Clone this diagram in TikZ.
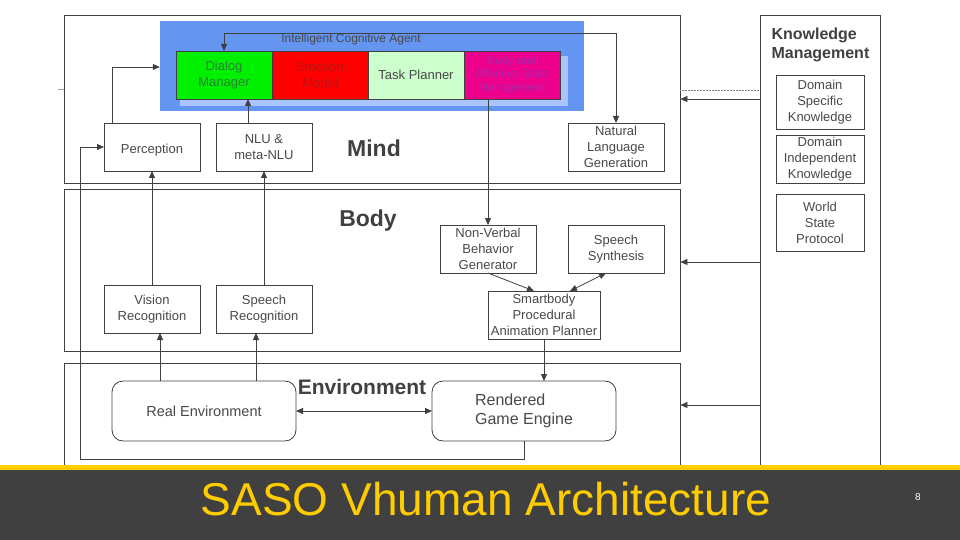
\documentclass[tikz,border=0pt]{standalone}
\usepackage{fontspec}
\setmainfont{Liberation Sans}
\usetikzlibrary{positioning,arrows.meta}
\definecolor{ln}{RGB}{64,64,64}
\definecolor{tx}{RGB}{72,72,72}
\definecolor{agblue}{RGB}{100,149,240}
\definecolor{agshade}{RGB}{170,196,255}
\definecolor{dmgreen}{RGB}{0,240,0}
\definecolor{dmtext}{RGB}{40,130,50}
\definecolor{emtext}{RGB}{180,20,20}
\definecolor{tpgreen}{RGB}{204,255,204}
\definecolor{bastext}{RGB}{170,40,170}
\definecolor{barbg}{RGB}{64,64,64}
\definecolor{ylw}{RGB}{255,204,0}

\begin{document}
\begin{tikzpicture}[x=1pt,y=-1pt,
  layer/.style={draw=ln,line width=0.8pt,inner sep=0pt},
  box/.style={draw=ln,line width=0.8pt,minimum width=96pt,minimum height=48pt,inner sep=1pt,outer sep=0pt,align=center,text=tx,font=\fontsize{13}{16}\selectfont},
  ag/.style={box,minimum width=96pt,minimum height=48pt},
  env/.style={box,rounded corners=11pt,minimum width=184pt,minimum height=60pt,font=\fontsize{14.5}{19}\selectfont},
  lbl/.style={text=ln,font=\bfseries\fontsize{23}{26}\selectfont},
  arr/.style={draw=ln,line width=0.8pt,-{Triangle[length=7pt,width=6pt]}},
  darr/.style={arr,{Triangle[length=7pt,width=6pt]}-{Triangle[length=7pt,width=6pt]}}
]
\useasboundingbox (0,0) rectangle (960,540);

\node[layer,minimum width=616pt,minimum height=168pt] (mind) at (372,99) {};
\node[layer,minimum width=616pt,minimum height=162pt] (body) at (372,270) {};
\node[layer,minimum width=616pt,minimum height=102pt] (envl) at (372,414) {};
\node[layer,minimum width=120pt,minimum height=450pt] (km) at (820,240) {};

\node[fill=agblue,minimum width=424pt,minimum height=90pt,inner sep=0pt] (ica) at (372,66) {};
\fill[agshade] (180,99) rectangle (568,106);
\fill[agshade] (560,56) rectangle (568,106);
\node[text=tx,font=\fontsize{12}{14}\selectfont] (icat) at (351,39) {Intelligent Cognitive Agent};
\node[ag,fill=dmgreen,text=dmtext] (dm) at (224,75) {Dialog\\Manager};
\node[ag,fill=red,text=emtext,right=0pt of dm] (em) {Emotion\\Model};
\node[ag,fill=tpgreen,right=0pt of em] (tp) {Task Planner};
\node[ag,fill=magenta,text=bastext,font=\fontsize{11.5}{13.5}\selectfont,right=0pt of tp] (bas) {Body and\\Affective State\\Management};

\node[box] (perc) at (152,147) {\mbox{}\\Perception};
\node[box] (nlu) at (264,147) {NLU \&\\meta-NLU};
\node[box] (nlg) at (616,147) {Natural\\Language\\Generation};
\node[lbl] (mindt) at (374,148) {Mind};

\node[lbl] (bodyt) at (368,221) {Body};
\node[box] (nvb) at (488,249) {Non-Verbal\\Behavior\\Generator};
\node[box] (ss) at (616,249) {Speech\\Synthesis};
\node[box,minimum width=112pt] (sb) at (544,315) {Smartbody\\Procedural\\Animation Planner};
\node[box] (vr) at (152,309) {Vision\\Recognition};
\node[box] (sr) at (264,309) {Speech\\Recognition};

\node[lbl,font=\bfseries\fontsize{21}{24}\selectfont] (envt) at (362,387) {Environment};
\node[env] (re) at (204,411) {Real Environment};
\node[env,align=left,font=\fontsize{16}{19}\selectfont] (rge) at (524,411) {Rendered\\Game Engine};

\node[text=ln,align=left,anchor=west,font=\bfseries\fontsize{16}{19}\selectfont] (kmt) at (768,45) {Knowledge\\Management};
\node[box,minimum width=88pt,minimum height=54pt] (dsk) at (820,102) {Domain\\Specific\\Knowledge};
\node[box,minimum width=88pt,minimum height=48pt] (dik) at (820,159) {Domain\\Independent\\Knowledge};
\node[box,minimum width=88pt,minimum height=57pt] (wsp) at (820,223) {World\\State\\Protocol};

\draw[darr] (dm.north) -- (dm.north |- 0,33) -- (nlg.north |- 0,33) -- (nlg.north);
\draw[arr] ([xshift=-40pt]perc.north) |- (ica.west |- 0,67);
\draw[arr] ([xshift=-16pt]nlu.north) -- ++(0,-24);
\draw[arr] (bas.south -| nvb.north) -- (nvb.north);
\draw[arr] (vr.north) -- (perc.south);
\draw[arr] (sr.north) -- (nlu.south);
\draw[arr] (re.north -| 160,0) -- (vr.south -| 160,0);
\draw[arr] (re.north -| 256,0) -- (sr.south -| 256,0);
\draw[arr] (sb.south) -- (sb.south |- rge.north);
\draw[darr] (re) -- (rge);
\draw[arr] (nvb.south) -- ([xshift=-10pt]sb.north);
\draw[darr] ([xshift=-10pt]ss.south) -- ([xshift=26pt]sb.north);
\draw[arr] (rge.south) -- ++(0,18) -| ([xshift=-24pt]perc.west) -- (perc.west);

\draw[arr] (km.west |- 0,99) -- (mind.east |- 0,99);
\draw[arr] (km.west |- 0,262) -- (body.east |- 0,262);
\draw[arr] (km.west |- 0,405) -- (envl.east |- 0,405);
\draw[gray,densely dotted,line width=0.5pt] (mind.east |- 0,90) -- (km.west |- 0,90);
\draw[gray!70,line width=0.5pt] (58,89) -- (mind.west |- 0,89);

\fill[barbg] (0,470) rectangle (960,540);
\fill[ylw] (0,465) rectangle (960,470);
\node[text=ylw,font=\fontsize{46}{52}\selectfont] (ttl) at (486,499) {SASO Vhuman Architecture};
\node[text=white,font=\fontsize{10}{12}\selectfont] (pg) at (918,497) {8};
\end{tikzpicture}
\end{document}
